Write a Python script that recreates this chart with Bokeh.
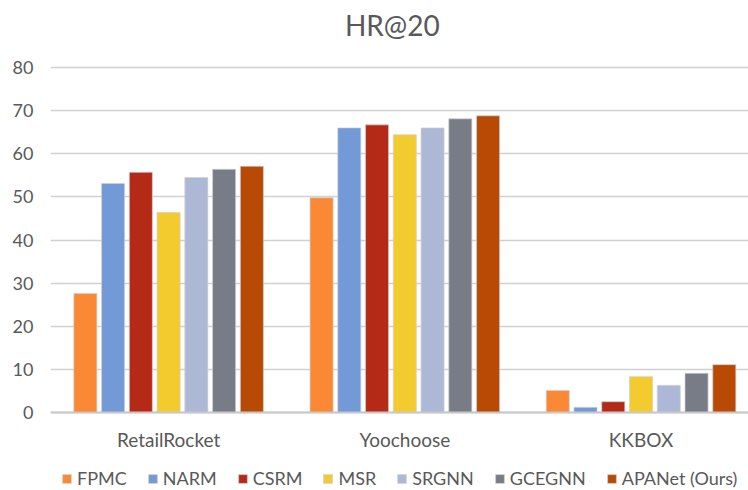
from bokeh.plotting import figure
from bokeh.models import ColumnDataSource, Range1d, FixedTicker, Legend, LegendItem, Label, Span
from bokeh.core.properties import value
from bokeh.embed import file_html
from bokeh.resources import INLINE
import numpy as np

datasets = ["RetailRocket", "Yoochoose", "KKBOX"]
methods = ["FPMC", "NARM", "CSRM", "MSR", "SRGNN", "GCEGNN", "APANet (Ours)"]
FPMC = [27.6, 49.8, 5.1]
NARM = [53.1, 66.0, 1.2]
CSRM = [55.7, 66.7, 2.5]
MSR = [46.4, 64.4, 8.3]
SRGNN = [54.5, 66.0, 6.3]
GCEGNN = [56.4, 68.1, 9.1]
APANet = [57.1, 68.8, 11.1]
series = [FPMC, NARM, CSRM, MSR, SRGNN, GCEGNN, APANet]
colors = ["#FA8835", "#7399D7", "#B42A17", "#F4CB2E", "#ACB8D6", "#777C86", "#B84A05"]
yticks = [0, 10, 20, 30, 40, 50, 60, 70, 80]
title_text = "HR@20"

FONT = "Lato"
TXT = "#595959"

# frame spans the whole canvas height; value axis 0..80 occupies the middle band
p = figure(frame_width=698, frame_height=490, output_backend="svg", toolbar_location=None,
           x_range=Range1d(0, 2.955), y_range=Range1d(-18.09, 95.54),
           x_axis_location=None,
           min_border_left=50, min_border_right=0, min_border_top=0, min_border_bottom=0)

title = Label(x=1.447, y=89.97, text=title_text,
              text_align="center", text_baseline="middle", text_font=FONT,
              text_font_size="28px", text_color=TXT)
p.add_layout(title)

centers = np.arange(len(datasets)) + 0.5
step = 0.1175
bw = 0.0976
renderers = []
for i, (m, vals, c) in enumerate(zip(methods, series, colors)):
    src = ColumnDataSource(dict(x=centers + (i - 3) * step, top=vals))
    r = p.vbar(x="x", top="top", bottom=0, width=bw, source=src, fill_color=c,
               line_color="#d0d0d0", line_width=1, line_alpha=0.7)
    renderers.append(LegendItem(label=m, renderers=[r]))

# category axis: baseline and category labels
p.add_layout(Span(location=0, dimension="width", line_color="#c8c8c8", line_width=2))
cat_src = ColumnDataSource(dict(x=centers, y=np.full(len(datasets), -6.26), text=datasets))
p.text(x="x", y="y", text="text", source=cat_src, text_align="center",
       text_baseline="middle", text_font=value(FONT), text_font_size="19px",
       text_color=TXT)

p.yaxis.ticker = FixedTicker(ticks=yticks)
p.yaxis.axis_line_color = None
p.yaxis.major_tick_line_color = None
p.yaxis.major_tick_out = 0
p.yaxis.major_tick_in = 0
p.yaxis.minor_tick_line_color = None
p.yaxis.major_label_text_font = FONT
p.yaxis.major_label_text_font_size = "18px"
p.yaxis.major_label_text_color = TXT
p.yaxis.major_label_standoff = 17

p.xgrid.grid_line_color = None
p.ygrid.ticker = FixedTicker(ticks=yticks)
p.ygrid.grid_line_color = "#d0d0d0"
p.ygrid.grid_line_width = 1.5
p.outline_line_color = None

legend = Legend(items=renderers, orientation="horizontal", location=(11, 1),
                glyph_width=11, glyph_height=11, label_standoff=5, spacing=20,
                label_text_font=FONT, label_text_font_size="18px", label_text_color=TXT,
                label_height=18,
                border_line_color=None, background_fill_alpha=0, padding=0, margin=0)
p.add_layout(legend)

open("out.html", "w").write(file_html(p, INLINE))
